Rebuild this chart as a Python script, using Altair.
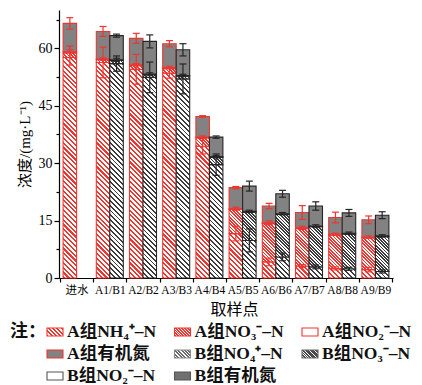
import math
import altair as alt

# ---- data -------------------------------------------------------------
categories = ["进水", "A1/B1", "A2/B2", "A3/B3", "A4/B4",
              "A5/B5", "A6/B6", "A7/B7", "A8/B8", "A9/B9"]

# group A (mg/L)
a_nh4 = [57.6, 56.3, 54.5, 53.5, 34.4, 11.6, 4.2, 3.1, 2.5, 2.2]
a_no3 = [1.2, 0.7, 1.0, 1.2, 2.2, 6.3, 10.0, 9.8, 8.7, 8.3]
a_no2 = [0.3, 0.2, 0.2, 0.3, 0.2, 0.2, 0.2, 0.2, 0.2, 0.2]
a_org = [7.4, 7.2, 6.9, 6.2, 5.4, 5.5, 4.4, 4.0, 4.4, 4.5]
a_nh4_err = [2.0, 4.0, 3.9, 1.3, 2.0, 1.9, 1.0, 0.4, 0.4, 0.6]
a_inorg_err = [1.5, 0.3, 0.3, 0.3, 0.3, 0.4, 0.5, 0.4, 0.3, 0.3]
a_total_err = [1.5, 1.3, 1.3, 0.8, 0.2, 0.3, 0.7, 1.8, 1.4, 1.0]

# group B (mg/L); no B sample for the influent
b_nh4 = [None, 56.0, 52.4, 52.0, 29.6, 9.8, 5.5, 2.9, 2.4, 1.7]
b_no3 = [None, 0.8, 0.7, 0.7, 1.9, 7.4, 11.1, 10.5, 9.1, 9.1]
b_no2 = [None, 0.2, 0.2, 0.2, 0.2, 0.2, 0.2, 0.2, 0.2, 0.2]
b_org = [None, 6.3, 8.5, 6.7, 5.1, 6.6, 5.2, 5.2, 5.3, 5.4]
b_nh4_err = [None, 2.0, 4.0, 3.9, 2.8, 3.0, 1.0, 0.5, 0.4, 0.4]
b_inorg_err = [None, 0.4, 0.3, 0.3, 0.3, 0.3, 0.3, 0.3, 0.3, 0.3]
b_total_err = [None, 0.4, 1.7, 1.6, 0.3, 1.3, 0.9, 1.1, 0.9, 0.9]

legend_labels = ["A组NH₄⁺–N", "A组NO₃⁻–N", "A组NO₂⁻–N", "A组有机氮",
                 "B组NO₄⁺–N", "B组NO₃⁻–N", "B组NO₂⁻–N", "B组有机氮"]

# ---- styling ----------------------------------------------------------
RED = "#ee3530"
DARK = "#262626"
B_LINE = "#3c3c3c"
GRAY = "#828282"
FONT = "Liberation Serif, Noto Sans CJK SC"

W_PLOT, H_PLOT, Y_MAX = 334, 268, 70
PX = H_PLOT / Y_MAX
PAD_OUT, PAD_OFF = 0.03, 0.23
STEP = W_PLOT / (len(categories) + 2 * PAD_OUT)
BAR_W = STEP / (2 + 2 * PAD_OFF)


def hatch(w, h, color, period, line):
    """Diagonal stripe fill as a linear gradient in bounding-box units."""
    if h < 1.0:
        return color
    lam = (w + h) / (w * w + h * h)
    n = (w + h) / (period * math.sqrt(2))
    frac = line / period
    stops = []
    k = 0
    while k < n:
        a = k / n
        b = min((k + frac) / n, 1.0)
        c = min((k + 1) / n, 1.0)
        stops += [{"offset": a, "color": color}, {"offset": b, "color": color},
                  {"offset": b, "color": "white"}, {"offset": c, "color": "white"}]
        k += 1
    return {"gradient": "linear", "x1": 0, "y1": 1,
            "x2": lam * w, "y2": 1 - lam * h, "stops": stops}


styles = {
    "A": {"nh4": (RED, 3.4, 1.5), "no3": (RED, 2.3, 1.3)},
    "B": {"nh4": (B_LINE, 3.4, 1.3), "no3": (B_LINE, 2.3, 1.2)},
}

bar_rows, err_rows = [], []
groups = {
    "A": (a_nh4, a_no3, a_no2, a_org, a_nh4_err, a_inorg_err, a_total_err),
    "B": (b_nh4, b_no3, b_no2, b_org, b_nh4_err, b_inorg_err, b_total_err),
}
for g, (nh4, no3, no2, org, e1, e2, e3) in groups.items():
    for i, cat in enumerate(categories):
        if nh4[i] is None:
            continue
        base = 0.0
        for comp, val in (("nh4", nh4[i]), ("no3", no3[i]), ("no2", no2[i]), ("org", org[i])):
            if comp in ("nh4", "no3"):
                col, per, lw = styles[g][comp]
                fill = hatch(BAR_W, val * PX, col, per, lw)
            elif comp == "no2":
                fill = "white"
            else:
                fill = GRAY
            bar_rows.append({"cat": cat, "grp": g, "y0": base, "y1": base + val, "fill": fill})
            base += val
        inorg = nh4[i] + no3[i] + no2[i]
        for center, e in ((nh4[i], e1[i]), (inorg, e2[i]), (inorg + org[i], e3[i])):
            if e and e > 0:
                err_rows.append({"cat": cat, "grp": g, "lo": center - e, "hi": center + e})

# ---- main plot ---------------------------------------------------------
x_scale = alt.Scale(domain=categories, paddingInner=0, paddingOuter=PAD_OUT)
xo_scale = alt.Scale(domain=["A", "B"], paddingInner=0, paddingOuter=PAD_OFF)
grp_colors = alt.Scale(domain=["A", "B"], range=[RED, DARK])
y_scale = alt.Scale(domain=[0, Y_MAX], nice=False, zero=True)

x_axis = alt.Axis(title="取样点", tickBand="extent", labelAngle=0, labelOverlap=False,
                  labelFontSize=11.5, titleFontSize=16, titleFontWeight="normal",
                  tickSize=4, labelPadding=2, titlePadding=6, titleX=175,
                  labelFont=FONT, titleFont=FONT)
y_axis = alt.Axis(title="浓度/(mg·L⁻¹)", values=[i * 7.5 for i in range(10)],
                  labelExpr="datum.value % 15 == 0 ? datum.label : ''",
                  tickSize={"condition": {"test": "datum.value % 15 != 0", "value": 3}, "value": 5},
                  grid=False, labelFontSize=14, titleFontSize=15, titleFontWeight="normal",
                  labelPadding=2, titlePadding=6, labelFont=FONT, titleFont=FONT)

x_enc = alt.X("cat:N", scale=x_scale, sort=categories, axis=x_axis)
xo_enc = alt.XOffset("grp:N", scale=xo_scale)

bars = alt.Chart(alt.Data(values=bar_rows)).mark_bar(strokeWidth=1.1, opacity=1).encode(
    x=x_enc, xOffset=xo_enc,
    y=alt.Y("y0:Q", scale=y_scale, axis=y_axis), y2="y1:Q",
    fill=alt.Fill("fill:N", scale=None),
    stroke=alt.Stroke("grp:N", scale=grp_colors, legend=None),
)

err_base = alt.Chart(alt.Data(values=err_rows)).encode(x=x_enc, xOffset=xo_enc)
err_rule = err_base.mark_rule(strokeWidth=1.2).encode(
    y=alt.Y("lo:Q", scale=y_scale, axis=y_axis), y2="hi:Q",
    color=alt.Color("grp:N", scale=grp_colors, legend=None))
cap_lo = err_base.mark_tick(size=7, thickness=1.2, opacity=1).encode(
    y=alt.Y("lo:Q", scale=y_scale, axis=y_axis),
    color=alt.Color("grp:N", scale=grp_colors, legend=None))
cap_hi = err_base.mark_tick(size=7, thickness=1.2, opacity=1).encode(
    y=alt.Y("hi:Q", scale=y_scale, axis=y_axis),
    color=alt.Color("grp:N", scale=grp_colors, legend=None))

plot = alt.layer(bars, err_rule, cap_lo, cap_hi).properties(width=W_PLOT, height=H_PLOT)

# ---- legend panel ------------------------------------------------------
SYM_W, SYM_H = 16, 8
leg_fills = [hatch(SYM_W, SYM_H, RED, 3.0, 1.4), hatch(SYM_W, SYM_H, RED, 2.0, 1.3), "white", GRAY,
             hatch(SYM_W, SYM_H, "#6a6a6a", 2.4, 1.4), hatch(SYM_W, SYM_H, "#4a4a4a", 1.8, 1.3),
             "white", "#707070"]
leg_strokes = [RED, RED, RED, RED, "#8a8a8a", "#6a6a6a", "#555555", "#555555"]
leg_rows = [{"row": i // 3, "col": i % 3, "label": lab, "fill": f, "strk": s}
            for i, (lab, f, s) in enumerate(zip(legend_labels, leg_fills, leg_strokes))]

lx = alt.X("col:O", scale=alt.Scale(type="point", domain=[0, 1, 2], padding=0), axis=None)
ly = alt.Y("row:O", scale=alt.Scale(type="point", domain=[0, 1, 2], padding=0), axis=None)

leg_base = alt.Chart(alt.Data(values=leg_rows)).encode(x=lx, y=ly)
leg_sym = leg_base.mark_point(shape="M-1,-0.5H1V0.5H-1Z", size=SYM_W * SYM_W, filled=True,
                              opacity=1, strokeWidth=1.1).encode(
    fill=alt.Fill("fill:N", scale=None), stroke=alt.Stroke("strk:N", scale=None),
    xOffset=alt.value(-4))
leg_txt = leg_base.mark_text(align="left", baseline="middle", dx=8, fontSize=17.5,
                             fontWeight="bold", font=FONT, color="#111").encode(text="label:N")
note = alt.Chart(alt.Data(values=[{"row": 0, "col": 0, "t": "注："}])).mark_text(
    align="right", baseline="middle", dx=-13, fontSize=18, fontWeight="bold",
    font=FONT, color="#111").encode(x=lx, y=ly, text="t:N")

legend = alt.layer(leg_sym, leg_txt, note).properties(width=255, height=44)

chart = alt.vconcat(plot, legend, spacing=5).properties(
    padding={"left": 10, "top": 10, "right": 4, "bottom": 0}
).configure_view(stroke=None).configure_axis(
    domainColor="black", tickColor="black", labelColor="black", titleColor="black",
    domainWidth=1.2, tickWidth=1.2)

chart.save("out.html", embed_options={"renderer": "svg", "actions": False})
